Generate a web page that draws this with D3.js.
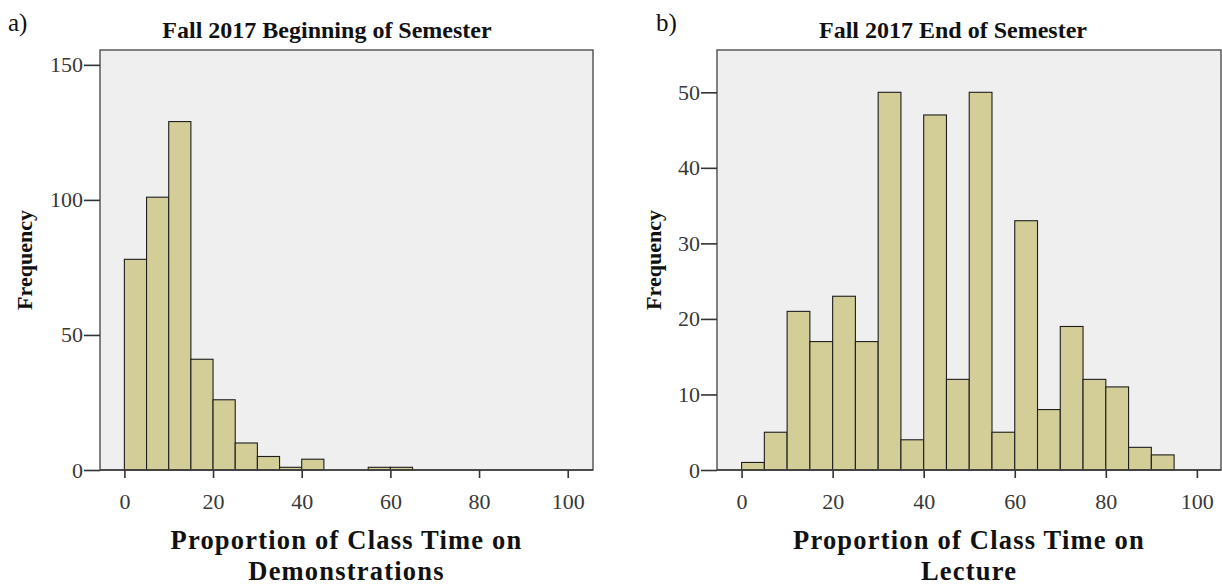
<!DOCTYPE html>
<html>
<head>
<meta charset="utf-8">
<script src="https://cdn.jsdelivr.net/npm/d3@7"></script>
<style>
  body { margin: 0; background: #fff; }
  text { font-family: "Liberation Serif", "Times New Roman", serif; }
</style>
</head>
<body>
<div id="chart"></div>
<script>
// bin starts (width 5) shared by both histograms
var binStarts = [0, 5, 10, 15, 20, 25, 30, 35, 40, 45, 50, 55, 60, 65, 70, 75, 80, 85, 90, 95];
var binWidth = 5;

// counts
var beginCounts = [78, 101, 129, 41, 26, 10, 5, 1, 4, 0, 0, 1, 1, 0, 0, 0, 0, 0, 0, 0];
var endCounts = [1, 5, 21, 17, 23, 17, 50, 4, 47, 12, 50, 5, 33, 8, 19, 12, 11, 3, 2, 0];

var xTicks = [0, 20, 40, 60, 80, 100];
var beginYTicks = [0, 50, 100, 150];
var endYTicks = [0, 10, 20, 30, 40, 50];

var w = 1222;
var h = 586;

var svg = d3.select("#chart")
    .append("svg")
    .attr("width", w)
    .attr("height", h);

//Draw one SPSS style histogram panel
function drawPanel(opts) {
  var g = svg.append("g");

  var x = d3.scaleLinear().domain(opts.xDomain).range([opts.left, opts.right]);
  var y = d3.scaleLinear().domain(opts.yDomain).range([opts.bottom, opts.top]);

  //plot background
  g.append("rect")
    .attr("x", opts.left)
    .attr("y", opts.top)
    .attr("width", opts.right - opts.left)
    .attr("height", opts.bottom - opts.top)
    .attr("fill", "#efefef");

  var bins = binStarts.map(function(s, i) {
    return { start: s, count: opts.counts[i] };
  }).filter(function(d) { return d.count > 0; });

  g.selectAll("rect.bar")
    .data(bins)
    .enter()
    .append("rect")
    .attr("class", "bar")
    .attr("x", function(d) { return x(d.start); })
    .attr("y", function(d) { return y(d.count); })
    .attr("width", function(d) { return x(d.start + binWidth) - x(d.start); })
    .attr("height", function(d) { return y(0) - y(d.count); })
    .attr("fill", "#d3ce97")
    .attr("stroke", "#1e1e1e")
    .attr("stroke-width", 1.1);

  //frame
  g.append("rect")
    .attr("x", opts.left)
    .attr("y", opts.top)
    .attr("width", opts.right - opts.left)
    .attr("height", opts.bottom - opts.top)
    .attr("fill", "none")
    .attr("stroke", "#5a5a5a")
    .attr("stroke-width", 1.5);

  var xAxis = g.append("g")
    .attr("transform", "translate(0," + opts.bottom + ")")
    .call(d3.axisBottom(x).tickValues(xTicks).tickSize(8).tickPadding(15).tickSizeOuter(0));

  var yAxis = g.append("g")
    .attr("transform", "translate(" + opts.left + ",0)")
    .call(d3.axisLeft(y).tickValues(opts.yTicks).tickSize(16).tickPadding(1).tickSizeOuter(0));

  [xAxis, yAxis].forEach(function(a) {
    a.select(".domain").remove();
    a.selectAll("line").attr("stroke", "#333").attr("stroke-width", 1.6);
    a.selectAll("text")
      .attr("fill", "#383838")
      .style("font-size", "22px")
      .style("font-family", '"Liberation Serif", "Times New Roman", serif');
  });

  //baseline
  g.append("line")
    .attr("x1", opts.left).attr("x2", opts.right)
    .attr("y1", opts.bottom).attr("y2", opts.bottom)
    .attr("stroke", "#3a3a3a")
    .attr("stroke-width", 1.6);

  //panel letter
  g.append("text")
    .attr("x", opts.letterX)
    .attr("y", 31)
    .style("font-size", "25px")
    .attr("fill", "#111")
    .text(opts.letter);

  //title
  g.append("text")
    .attr("x", opts.titleX)
    .attr("y", 38)
    .attr("text-anchor", "middle")
    .style("font-size", "24px")
    .style("font-weight", "bold")
    .attr("fill", "#111")
    .text(opts.title);

  //y axis title
  g.append("text")
    .attr("transform", "translate(" + opts.yTitleX + ",260) rotate(-90)")
    .attr("text-anchor", "middle")
    .attr("dy", "0.35em")
    .style("font-size", "22px")
    .style("font-weight", "bold")
    .attr("fill", "#111")
    .text("Frequency");

  //x axis title, two lines
  var cx = (opts.left + opts.right) / 2;
  g.append("text")
    .attr("x", cx)
    .attr("y", 549)
    .attr("text-anchor", "middle")
    .style("font-size", "26.5px")
    .style("font-weight", "bold")
    .style("letter-spacing", "1.2px")
    .attr("fill", "#111")
    .text("Proportion of Class Time on");
  g.append("text")
    .attr("x", cx)
    .attr("y", 579.5)
    .attr("text-anchor", "middle")
    .style("font-size", "26.5px")
    .style("font-weight", "bold")
    .style("letter-spacing", "1.2px")
    .attr("fill", "#111")
    .text(opts.xLine2);
}

drawPanel({
  left: 100, right: 593, top: 50, bottom: 470,
  xDomain: [-5.5, 105.7], yDomain: [0, 155.5],
  counts: beginCounts, yTicks: beginYTicks,
  letter: "a)", letterX: 8,
  title: "Fall 2017 Beginning of Semester", titleX: 327,
  yTitleX: 24,
  xLine2: "Demonstrations"
});

drawPanel({
  left: 717, right: 1221, top: 50, bottom: 470,
  xDomain: [-5.4, 105.3], yDomain: [0, 55.6],
  counts: endCounts, yTicks: endYTicks,
  letter: "b)", letterX: 656,
  title: "Fall 2017 End of Semester", titleX: 953,
  yTitleX: 653,
  xLine2: "Lecture"
});
</script>
</body>
</html>
